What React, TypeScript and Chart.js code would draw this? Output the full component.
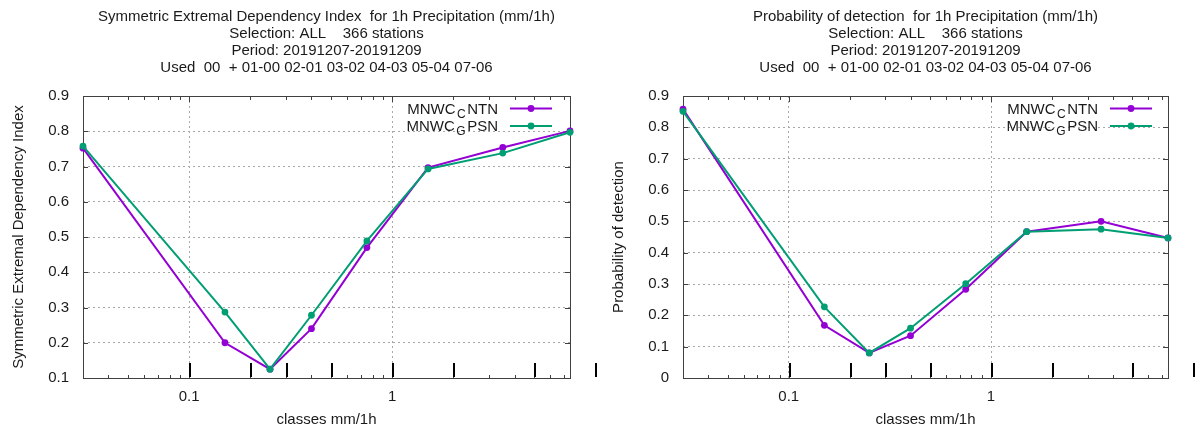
import React, { useEffect, useRef } from 'react';
import { Chart, registerables } from 'chart.js';

Chart.register(...registerables);

// ---------- data ----------
const classMid = [0.03, 0.15, 0.25, 0.4, 0.75, 1.5, 3.5, 7.5];
const classBounds = [0.1, 0.2, 0.3, 0.5, 1, 2, 5, 10];
const xMajorTicks = [0.1, 1];
const xMinorTicks = [0.04, 0.05, 0.06, 0.07, 0.08, 0.09, 0.2, 0.3, 0.4, 0.5, 0.6, 0.7, 0.8, 0.9, 2, 3, 4, 5, 6, 7];
const seriesNames = ['MNWC_CNTN', 'MNWC_GPSN'];
const seriesColors = ['#9400d3', '#009e73'];

const sediCNTN = [0.752, 0.200, 0.125, 0.240, 0.470, 0.697, 0.754, 0.801];
const sediGPSN = [0.758, 0.287, 0.125, 0.278, 0.489, 0.693, 0.738, 0.797];
const podCNTN = [0.858, 0.168, 0.080, 0.135, 0.283, 0.467, 0.500, 0.447];
const podGPSN = [0.851, 0.227, 0.080, 0.159, 0.301, 0.467, 0.475, 0.447];

const sediYTicks = [0.1, 0.2, 0.3, 0.4, 0.5, 0.6, 0.7, 0.8, 0.9];
const podYTicks = [0, 0.1, 0.2, 0.3, 0.4, 0.5, 0.6, 0.7, 0.8, 0.9];

const sediTitle = [
  'Symmetric Extremal Dependency Index  for 1h Precipitation (mm/1h)',
  'Selection: ALL    366 stations',
  'Period: 20191207-20191209',
  'Used  00  + 01-00 02-01 03-02 04-03 05-04 07-06',
];
const podTitle = [
  'Probability of detection  for 1h Precipitation (mm/1h)',
  'Selection: ALL    366 stations',
  'Period: 20191207-20191209',
  'Used  00  + 01-00 02-01 03-02 04-03 05-04 07-06',
];
const xAxisTitle = 'classes mm/1h';

// ---------- style ----------
const FONT = 'Liberation Sans, Arial, sans-serif';
const TEXT = '#1a1a1a';
const AXIS = '#404040';
const GRID = '#a8a8a8';

Chart.defaults.font.family = FONT;

function parseEnhanced(s: string) {
  const parts: { t: string; sub: boolean }[] = [];
  let buf = '';
  for (let i = 0; i < s.length; i++) {
    if (s[i] === '_' && i + 1 < s.length) {
      if (buf) parts.push({ t: buf, sub: false });
      buf = '';
      parts.push({ t: s[i + 1], sub: true });
      i++;
    } else buf += s[i];
  }
  if (buf) parts.push({ t: buf, sub: false });
  return parts;
}

const decorPlugin = {
  id: 'gnuDecor',
  beforeDatasetsDraw(chart: any) {
    const { ctx, chartArea } = chart;
    const xs = chart.scales.x;
    const ys = chart.scales.y;
    const L = Math.round(chartArea.left), R = Math.round(chartArea.right);
    const T = Math.round(chartArea.top), B = Math.round(chartArea.bottom);
    ctx.save();
    // border
    ctx.strokeStyle = AXIS;
    ctx.lineWidth = 1;
    ctx.strokeRect(L + 0.5, T + 0.5, R - L, B - T);
    // x ticks (bottom/top)
    ctx.beginPath();
    for (const v of xMinorTicks) {
      const x = Math.round(xs.getPixelForValue(v)) + 0.5;
      if (x < L || x > R + 1) continue;
      ctx.moveTo(x, B); ctx.lineTo(x, B - 3);
      ctx.moveTo(x, T); ctx.lineTo(x, T + 4);
    }
    for (const v of xMajorTicks) {
      const x = Math.round(xs.getPixelForValue(v)) + 0.5;
      ctx.moveTo(x, B); ctx.lineTo(x, B - 6);
      ctx.moveTo(x, T); ctx.lineTo(x, T + 6);
    }
    // y ticks left/right
    for (const t of ys.ticks) {
      const y = Math.round(ys.getPixelForValue(t.value)) + 0.5;
      ctx.moveTo(L, y); ctx.lineTo(L + 5, y);
      ctx.moveTo(R, y); ctx.lineTo(R - 5, y);
    }
    ctx.stroke();
    // class boundary marks
    ctx.strokeStyle = '#000';
    ctx.lineWidth = 2;
    ctx.beginPath();
    for (const v of classBounds) {
      const x = Math.round(xs.getPixelForValue(v)) + 1;
      ctx.moveTo(x, B - 1); ctx.lineTo(x, B - 15);
    }
    ctx.stroke();
    ctx.restore();
  },
  afterDraw(chart: any) {
    const { ctx, chartArea } = chart;
    const opts = chart.options.plugins.gnuDecor;
    const cx = (chartArea.left + chartArea.right) / 2;
    ctx.save();
    ctx.fillStyle = TEXT;
    ctx.font = `15px ${FONT}`;
    ctx.textAlign = 'center';
    ctx.textBaseline = 'alphabetic';
    opts.title.forEach((line: string, i: number) => {
      ctx.fillText(line, cx, 20.7 + i * 17.2);
    });
    // legend
    const rightText = chartArea.left + 415;
    const x0 = chartArea.left + 427, x1 = chartArea.left + 469;
    chart.data.datasets.forEach((ds: any, i: number) => {
      const lineY = 108.5 + i * 17.5;
      const baseY = 113.5 + i * 17.5;
      const parts = parseEnhanced(ds.label);
      let total = 0;
      const widths = parts.map((p) => {
        ctx.font = p.sub ? `12px ${FONT}` : `15px ${FONT}`;
        const w = ctx.measureText(p.t).width + (p.sub ? 3 : 0);
        total += w;
        return w;
      });
      let x = rightText - total;
      ctx.textAlign = 'left';
      ctx.fillStyle = TEXT;
      parts.forEach((p, k) => {
        ctx.font = p.sub ? `12px ${FONT}` : `15px ${FONT}`;
        ctx.fillText(p.t, x + (p.sub ? 1.5 : 0), p.sub ? baseY + 4 : baseY);
        x += widths[k];
      });
      ctx.strokeStyle = ds.borderColor;
      ctx.lineWidth = 2;
      ctx.beginPath();
      ctx.moveTo(x0, lineY); ctx.lineTo(x1, lineY);
      ctx.stroke();
      ctx.fillStyle = ds.borderColor;
      ctx.beginPath();
      ctx.arc((x0 + x1) / 2, lineY, 3.4, 0, Math.PI * 2);
      ctx.fill();
    });
    ctx.restore();
  },
};

function makeConfig(title: string[], yTitle: string, yTicks: number[], a: number[], b: number[]) {
  const series = [a, b];
  return {
    type: 'line' as const,
    data: {
      datasets: series.map((vals, i) => ({
        label: seriesNames[i],
        data: classMid.map((x, k) => ({ x, y: vals[k] })),
        borderColor: seriesColors[i],
        backgroundColor: seriesColors[i],
        borderWidth: 2,
        pointRadius: 3.4,
        pointBorderWidth: 0,
        pointHoverRadius: 3.4,
        tension: 0,
        fill: false,
        clip: false,
        order: i === 0 ? 1 : 0,
      })),
    },
    plugins: [decorPlugin],
    options: {
      animation: false,
      responsive: false,
      maintainAspectRatio: false,
      events: [],
      layout: { padding: { top: 96, right: 30, left: 0, bottom: 0 } },
      plugins: {
        legend: { display: false },
        title: { display: false },
        tooltip: { enabled: false },
        gnuDecor: { title },
      },
      scales: {
        x: {
          type: 'logarithmic',
          min: classMid[0],
          max: classMid[classMid.length - 1],
          afterBuildTicks: (s: any) => { s.ticks = xMajorTicks.map((v) => ({ value: v })); },
          afterFit: (s: any) => { s.height = 55; },
          ticks: {
            autoSkip: false,
            maxRotation: 0,
            font: { size: 15, family: FONT },
            color: TEXT,
            padding: 10,
            callback: (v: any) => String(Number(v)),
          },
          grid: { color: GRID, lineWidth: 1, drawTicks: false },
          border: { display: false, dash: [2, 3] },
          title: { display: true, text: xAxisTitle, font: { size: 15, family: FONT }, color: TEXT, padding: { top: 0, bottom: 4 } },
        },
        y: {
          type: 'linear',
          min: yTicks[0],
          max: yTicks[yTicks.length - 1],
          afterBuildTicks: (s: any) => { s.ticks = yTicks.map((v) => ({ value: v })); },
          afterFit: (s: any) => { s.width = 83; },
          ticks: {
            font: { size: 15, family: FONT },
            color: TEXT,
            padding: 14,
            callback: (v: any) => (Number(v) === 0 ? '0' : Number(v).toFixed(1)),
          },
          grid: { color: GRID, lineWidth: 1, drawTicks: false },
          border: { display: false, dash: [2, 3] },
          title: { display: true, text: yTitle, font: { size: 15, family: FONT }, color: TEXT, padding: { top: 10, bottom: 0 } },
        },
      },
    },
  };
}

function ChartCanvas({ width, build }: { width: number; build: () => any }) {
  const ref = useRef<HTMLCanvasElement>(null);
  useEffect(() => {
    const chart = new Chart(ref.current as HTMLCanvasElement, build());
    return () => chart.destroy();
  }, []);
  return <canvas ref={ref} width={width} height={433} style={{ display: 'block', width, height: 433 }} />;
}

export default function App() {
  return (
    <div style={{ position: 'absolute', left: 0, top: 0, width: 1198, height: 433, background: '#fff', display: 'flex' }}>
      <ChartCanvas width={600} build={() => makeConfig(sediTitle, 'Symmetric Extremal Dependency Index', sediYTicks, sediCNTN, sediGPSN)} />
      <ChartCanvas width={598} build={() => makeConfig(podTitle, 'Probability of detection', podYTicks, podCNTN, podGPSN)} />
    </div>
  );
}
